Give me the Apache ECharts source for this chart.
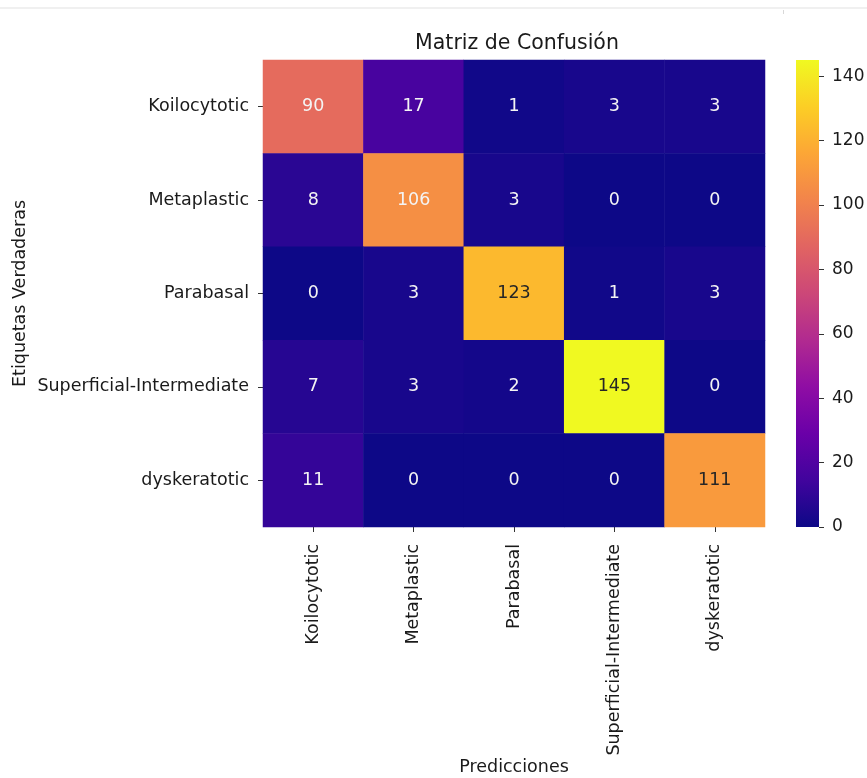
<!DOCTYPE html>
<html>
<head>
<meta charset="utf-8">
<script src="https://cdn.jsdelivr.net/npm/echarts@6/dist/echarts.min.js"></script>
<style>
  html, body { margin: 0; padding: 0; background: #fff; }
  #chart { width: 867px; height: 778px; }
</style>
</head>
<body>
<div id="chart"></div>
<script>
// Class names (true labels on rows, predictions on columns)
const classes = ['Koilocytotic', 'Metaplastic', 'Parabasal', 'Superficial-Intermediate', 'dyskeratotic'];

// Confusion matrix counts, one array per true class
const rowKoilocytotic = [90, 17, 1, 3, 3];
const rowMetaplastic = [8, 106, 3, 0, 0];
const rowParabasal = [0, 3, 123, 1, 3];
const rowSuperficial = [7, 3, 2, 145, 0];
const rowDyskeratotic = [11, 0, 0, 0, 111];
const matrixRows = [rowKoilocytotic, rowMetaplastic, rowParabasal, rowSuperficial, rowDyskeratotic];

// Colour scale limits and colorbar ticks
const scaleMin = 0;
const scaleMax = 145;
const colorbarTicks = [0, 20, 40, 60, 80, 100, 120, 140];

// Plasma colormap stops
const plasma = ['#0d0887', '#41049d', '#6a00a8', '#8f0da4', '#b12a90', '#cc4778',
                '#e16462', '#f2844b', '#fca636', '#fcce25', '#f0f921'];

const font = 'DejaVu Sans, Verdana, sans-serif';
const fs = 17.5;

// Dark text on bright cells, light text elsewhere
const heatData = [];
matrixRows.forEach((row, r) => {
  row.forEach((v, c) => heatData.push({
    value: [c, r, v],
    label: { color: v / scaleMax > 0.75 ? '#262626' : '#f4f4f4' }
  }));
});

const chart = echarts.init(document.getElementById('chart'), null, { renderer: 'canvas' });

const gradientStops = plasma.map((c, i) => ({ offset: i / (plasma.length - 1), color: c }));

chart.setOption({
  backgroundColor: '#fff',
  animation: false,
  title: {
    text: 'Matriz de Confusión',
    left: 512, top: 28, textAlign: 'center',
    textStyle: { fontFamily: font, fontSize: 20.5, fontWeight: 'normal', color: '#1a1a1a' }
  },
  grid: [
    { left: 263, top: 60, width: 502, height: 467, outerBoundsMode: 'none', containLabel: false },
    { left: 796, top: 60, width: 23, height: 467, outerBoundsMode: 'none', containLabel: false }
  ],
  xAxis: [
    {
      type: 'category', gridIndex: 0, data: classes,
      name: 'Predicciones', nameLocation: 'middle', nameGap: 231, nameMoveOverlap: false,
      nameTextStyle: { fontFamily: font, fontSize: fs, color: '#1a1a1a' },
      axisLine: { show: false },
      axisTick: { show: true, alignWithLabel: true, length: 5, lineStyle: { color: '#333' } },
      axisLabel: { rotate: 90, fontFamily: font, fontSize: fs, color: '#1a1a1a', margin: 17 },
      splitLine: { show: false }
    },
    {
      type: 'category', gridIndex: 1, data: ['cb'], show: false
    }
  ],
  yAxis: [
    {
      type: 'category', gridIndex: 0, data: classes, inverse: true,
      name: 'Etiquetas Verdaderas', nameLocation: 'middle', nameGap: 234, nameRotate: 90,
      nameMoveOverlap: false,
      nameTextStyle: { fontFamily: font, fontSize: fs, color: '#1a1a1a' },
      axisLine: { show: false },
      axisTick: { show: true, alignWithLabel: true, length: 5, lineStyle: { color: '#333' } },
      axisLabel: { fontFamily: font, fontSize: fs, color: '#1a1a1a', margin: 14 },
      splitLine: { show: false }
    },
    {
      type: 'value', gridIndex: 1, position: 'right', min: scaleMin, max: scaleMax, interval: 20,
      axisLine: { show: false },
      axisTick: { show: true, length: 5, lineStyle: { color: '#333' } },
      axisLabel: {
        fontFamily: font, fontSize: 17, color: '#1a1a1a', margin: 13,
        showMaxLabel: false,
        formatter: v => (colorbarTicks.indexOf(v) >= 0 ? String(v) : '')
      },
      splitLine: { show: false }
    }
  ],
  visualMap: {
    show: false, type: 'continuous', min: scaleMin, max: scaleMax,
    seriesIndex: 0, dimension: 2,
    inRange: { color: plasma }
  },
  series: [
    {
      type: 'heatmap', xAxisIndex: 0, yAxisIndex: 0, data: heatData,
      label: {
        show: true, fontFamily: font, fontSize: fs,
        formatter: p => String(p.value[2])
      },
      itemStyle: { borderWidth: 0 },
      emphasis: { disabled: true }
    },
    {
      // colorbar drawn as a single bar spanning the full scale
      type: 'bar', xAxisIndex: 1, yAxisIndex: 1, data: [scaleMax], barWidth: '100%',
      silent: true,
      itemStyle: {
        color: new echarts.graphic.LinearGradient(0, 1, 0, 0, gradientStops)
      }
    }
  ],
  graphic: [
    { type: 'rect', shape: { x: 0, y: 7, width: 867, height: 2 }, style: { fill: '#f0f0f0' }, silent: true },
    { type: 'rect', shape: { x: 783, y: 10, width: 1, height: 4 }, style: { fill: '#d8d8d8' }, silent: true }
  ]
});
</script>
</body>
</html>
